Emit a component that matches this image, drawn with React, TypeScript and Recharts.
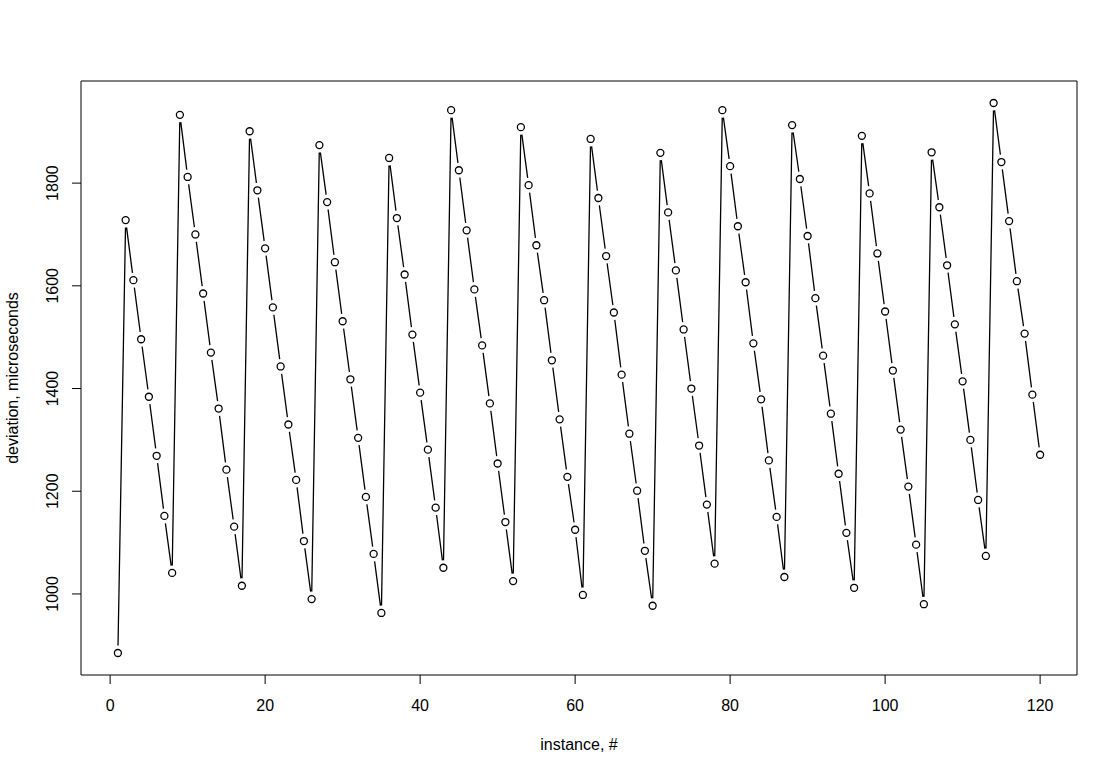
import { LineChart, Line, XAxis, YAxis, ReferenceArea } from "recharts";

// deviation per instance (microseconds), instances numbered 1..120
const deviation = [
  885, 1728, 1611, 1496, 1384, 1269, 1152, 1041,
  1933, 1812, 1700, 1585, 1470, 1361, 1242, 1131, 1016,
  1901, 1786, 1673, 1558, 1443, 1330, 1222, 1103, 990,
  1874, 1763, 1646, 1531, 1418, 1304, 1189, 1078, 963,
  1849, 1732, 1622, 1505, 1392, 1281, 1168, 1051,
  1942, 1825, 1708, 1593, 1484, 1371, 1254, 1140, 1025,
  1909, 1796, 1679, 1572, 1455, 1340, 1228, 1125, 998,
  1886, 1771, 1658, 1548, 1427, 1312, 1201, 1084, 977,
  1859, 1743, 1630, 1515, 1400, 1289, 1174, 1059,
  1942, 1833, 1716, 1607, 1488, 1379, 1260, 1150, 1033,
  1913, 1808, 1697, 1576, 1464, 1351, 1234, 1119, 1012,
  1892, 1780, 1663, 1550, 1435, 1320, 1209, 1096, 980,
  1860, 1753, 1640, 1525, 1414, 1300, 1183, 1074,
  1956, 1841, 1726, 1609, 1507, 1388, 1271,
];

const xTicks = [0, 20, 40, 60, 80, 100, 120];
const yTicks = [1000, 1200, 1400, 1600, 1800];

const data = deviation.map((v, i) => ({ instance: i + 1, deviation: v }));

// R-style 4% padding of the data range
const xMin = 1, xMax = deviation.length;
const xPad = (xMax - xMin) * 0.04;
const yMin = Math.min(...deviation), yMax = Math.max(...deviation);
const yPad = (yMax - yMin) * 0.04;
const xDomain = [xMin - xPad, xMax + xPad];
const yDomain = [yMin - yPad, yMax + yPad];

const FONT = "'Liberation Sans', Arial, Helvetica, sans-serif";

// open circle with a white halo so the line stops short of it (type = "b")
const Dot = (props: any) => {
  const { cx, cy, index } = props;
  return (
    <g key={"d" + index}>
      <circle cx={cx} cy={cy} r={7.5} fill="#fff" stroke="none" />
      <circle cx={cx} cy={cy} r={3.5} fill="#fff" stroke="#000" strokeWidth={1.3} />
    </g>
  );
};

const XTick = (props: any) => (
  <text x={props.x} y={711} textAnchor="middle" fontSize={16} fontFamily={FONT} fill="#000">
    {props.payload.value}
  </text>
);

const YTick = (props: any) => (
  <text
    x={58}
    y={props.y}
    transform={`rotate(-90, 58, ${props.y})`}
    textAnchor="middle"
    fontSize={16}
    fontFamily={FONT}
    fill="#000"
  >
    {props.payload.value}
  </text>
);

export default function App() {
  return (
    <div style={{ position: "absolute", left: 0, top: 0, background: "#fff" }}>
      <LineChart
        width={1119}
        height={776}
        data={data}
        margin={{ top: 81, right: 42, bottom: 0, left: 0 }}
      >
        <XAxis
          dataKey="instance"
          type="number"
          domain={xDomain}
          ticks={xTicks}
          allowDataOverflow
          height={101}
          axisLine={false}
          tickSize={9}
          tickLine={{ stroke: "#000", strokeWidth: 1 }}
          tick={<XTick />}
          label={{
            content: (p: any) => (
              <text
                x={p.viewBox.x + p.viewBox.width / 2}
                y={750}
                textAnchor="middle"
                fontSize={16}
                fontFamily={FONT}
                fill="#000"
              >
                instance, #
              </text>
            ),
          }}
        />
        <YAxis
          dataKey="deviation"
          type="number"
          domain={yDomain}
          ticks={yTicks}
          allowDataOverflow
          width={81}
          axisLine={false}
          tickSize={9}
          tickLine={{ stroke: "#000", strokeWidth: 1 }}
          tick={<YTick />}
          label={{
            content: (p: any) => {
              const cy = p.viewBox.y + p.viewBox.height / 2;
              return (
                <text
                  x={18}
                  y={cy}
                  transform={`rotate(-90, 18, ${cy})`}
                  textAnchor="middle"
                  fontSize={16}
                  fontFamily={FONT}
                  fill="#000"
                >
                  deviation, microseconds
                </text>
              );
            },
          }}
        />
        <ReferenceArea
          x1={xDomain[0]}
          x2={xDomain[1]}
          y1={yDomain[0]}
          y2={yDomain[1]}
          fill="none"
          stroke="#000"
          strokeWidth={1}
          ifOverflow="visible"
        />
        <Line
          type="linear"
          dataKey="deviation"
          stroke="#000"
          strokeWidth={1.3}
          dot={false}
          activeDot={false}
          isAnimationActive={false}
        />
        <Line
          type="linear"
          dataKey="deviation"
          stroke="none"
          dot={<Dot />}
          activeDot={false}
          isAnimationActive={false}
        />
      </LineChart>
    </div>
  );
}
